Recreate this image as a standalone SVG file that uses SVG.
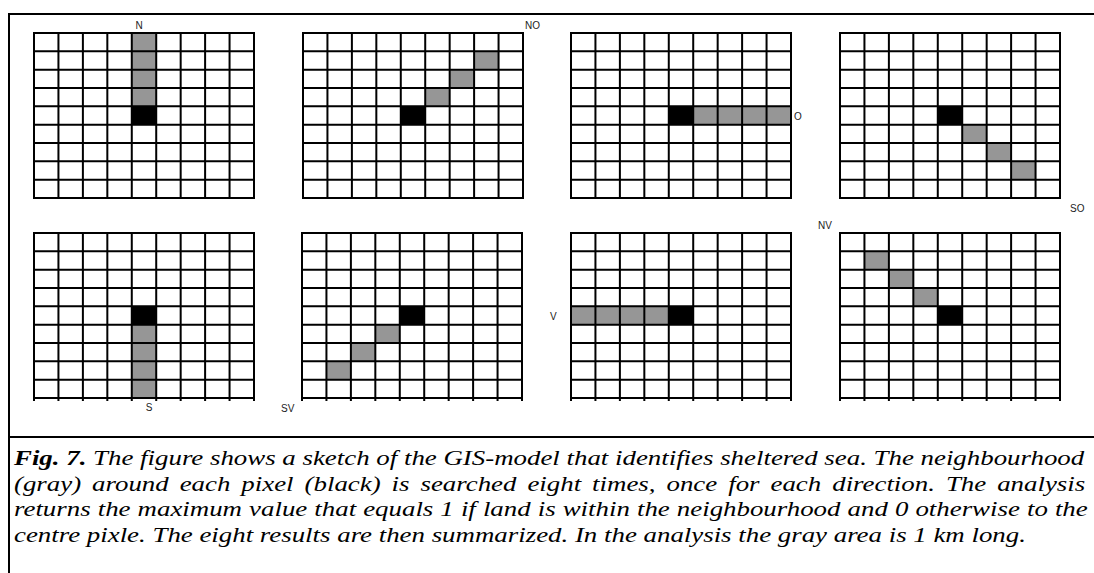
<svg xmlns="http://www.w3.org/2000/svg" xmlns:xlink="http://www.w3.org/1999/xlink" width="1094" height="573" viewBox="0 0 1094 573">
<style>
.lbl{font-family:"Liberation Sans",Arial,sans-serif;font-size:10px;fill:#222}
.cap{font-family:"Liberation Serif","Times New Roman",serif;font-size:22px;font-style:italic;fill:#000}
.g{fill:#969696}
.k{fill:#000}
.frame{fill:none;stroke:#000;stroke-width:2}
</style>
<defs>
<g id="grid">
<path fill="none" stroke="#000" stroke-width="2" d="M0 0V165M24.44 0V165M48.89 0V165M73.33 0V165M97.78 0V165M122.22 0V165M146.67 0V165M171.11 0V165M195.56 0V165M220 0V165M-1 0H221M-1 18.33H221M-1 36.67H221M-1 55H221M-1 73.33H221M-1 91.67H221M-1 110H221M-1 128.33H221M-1 146.67H221M-1 165H221"/>
</g>
<path id="ticks" fill="none" stroke="#000" stroke-width="2" d="M0 165V168M24.44 165V168M48.89 165V168M73.33 165V168M97.78 165V168M122.22 165V168M146.67 165V168M171.11 165V168M195.56 165V168M220 165V168"/>
</defs>
<rect width="1094" height="573" fill="#fff"/>
<path class="frame" d="M9 573V14H1094M9 437H1094"/>

<g id="grid-N" transform="translate(34,33)">
<rect class="g" x="97.78" y="0" width="24.44" height="73.33"/>
<rect class="k" x="97.78" y="73.33" width="24.44" height="18.33"/>
<use xlink:href="#grid"/>
<text class="lbl" x="105" y="-4" text-anchor="middle">N</text>
</g>

<g id="grid-NO" transform="translate(303,33)">
<rect class="k" x="97.78" y="73.33" width="24.44" height="18.33"/>
<rect class="g" x="122.22" y="55" width="24.44" height="18.33"/>
<rect class="g" x="146.67" y="36.67" width="24.44" height="18.33"/>
<rect class="g" x="171.11" y="18.33" width="24.44" height="18.33"/>
<use xlink:href="#grid"/>
<text class="lbl" x="222" y="-4">NO</text>
</g>

<g id="grid-O" transform="translate(571,33)">
<rect class="k" x="97.78" y="73.33" width="24.44" height="18.33"/>
<rect class="g" x="122.22" y="73.33" width="97.78" height="18.33"/>
<use xlink:href="#grid"/>
<text class="lbl" x="223" y="87">O</text>
</g>

<g id="grid-SO" transform="translate(840,33)">
<rect class="k" x="97.78" y="73.33" width="24.44" height="18.33"/>
<rect class="g" x="122.22" y="91.67" width="24.44" height="18.33"/>
<rect class="g" x="146.67" y="110" width="24.44" height="18.33"/>
<rect class="g" x="171.11" y="128.33" width="24.44" height="18.33"/>
<use xlink:href="#grid"/>
<text class="lbl" x="230" y="179">SO</text>
</g>

<g id="grid-S" transform="translate(34,233)">
<rect class="k" x="97.78" y="73.33" width="24.44" height="18.33"/>
<rect class="g" x="97.78" y="91.67" width="24.44" height="73.33"/>
<use xlink:href="#grid"/>
<use xlink:href="#ticks"/>
<text class="lbl" x="115" y="178" text-anchor="middle">S</text>
</g>

<g id="grid-SV" transform="translate(302,233)">
<rect class="k" x="97.78" y="73.33" width="24.44" height="18.33"/>
<rect class="g" x="73.33" y="91.67" width="24.44" height="18.33"/>
<rect class="g" x="48.89" y="110" width="24.44" height="18.33"/>
<rect class="g" x="24.44" y="128.33" width="24.44" height="18.33"/>
<use xlink:href="#grid"/>
<use xlink:href="#ticks"/>
<text class="lbl" x="-21" y="179">SV</text>
</g>

<g id="grid-V" transform="translate(571,233)">
<rect class="g" x="0" y="73.33" width="97.78" height="18.33"/>
<rect class="k" x="97.78" y="73.33" width="24.44" height="18.33"/>
<use xlink:href="#grid"/>
<use xlink:href="#ticks"/>
<text class="lbl" x="-21" y="87">V</text>
</g>

<g id="grid-NV" transform="translate(840,233)">
<rect class="k" x="97.78" y="73.33" width="24.44" height="18.33"/>
<rect class="g" x="24.44" y="18.33" width="24.44" height="18.33"/>
<rect class="g" x="48.89" y="36.67" width="24.44" height="18.33"/>
<rect class="g" x="73.33" y="55" width="24.44" height="18.33"/>
<use xlink:href="#grid"/>
<use xlink:href="#ticks"/>
<text class="lbl" x="-22" y="-4">NV</text>
</g>

<g id="caption" transform="translate(14,0) scale(1.221,1)">
<text class="cap" x="0" y="465"><tspan font-weight="bold">Fig. 7.</tspan> The figure shows a sketch of the GIS-model that identifies sheltered sea. The neighbourhood</text>
<text class="cap" x="0" y="491" word-spacing="3.5">(gray) around each pixel (black) is searched eight times, once for each direction. The analysis</text>
<text class="cap" x="0" y="516" word-spacing="0.3">returns the maximum value that equals 1 if land is within the neighbourhood and 0 otherwise to the</text>
<text class="cap" x="0" y="542">centre pixle. The eight results are then summarized. In the analysis the gray area is 1 km long.</text>
</g>
</svg>
